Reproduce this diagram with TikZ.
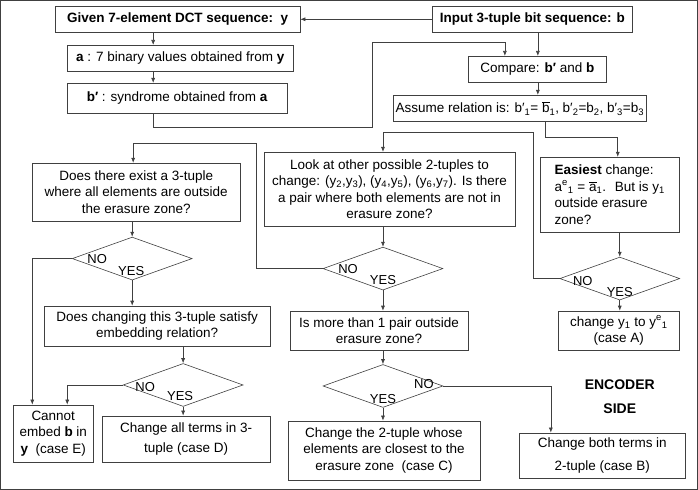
\documentclass[tikz,border=0pt]{standalone}
\usepackage{fontspec}
\setmainfont{Liberation Sans}
\usetikzlibrary{shapes.geometric,arrows.meta,positioning}

\begin{document}
\begin{tikzpicture}[
    x=1pt, y=-1pt,
    >={Latex[length=5pt,width=4pt]},
    every path/.style={draw=black!75, line width=0.6pt},
    block/.style={rectangle, draw, align=center, inner sep=2pt, font=\fontsize{13.5}{16.5}\selectfont},
    decision/.style={diamond, draw, minimum width=120pt, minimum height=43pt, inner sep=0pt},
    answer/.style={inner sep=0pt, font=\fontsize{13}{15}\selectfont},
    tag/.style={inner sep=0pt, font=\fontsize{14}{16}\selectfont\bfseries}
]
\useasboundingbox (0,0) rectangle (698,489);

% Inputs
\node[block, minimum width=245pt, minimum height=26pt] (given) at (177.5,19) {\bfseries Given 7-element DCT sequence:~~y};
\node[block, minimum width=201pt, minimum height=26pt] (input) at (532.5,19) {\bfseries Input 3-tuple bit sequence: b};
\node[block, minimum width=226pt, minimum height=26pt] (abin) at (180,58) {\textbf{a} : 7 binary values obtained from \textbf{y}};
\node[block, minimum width=220pt, minimum height=30pt] (synd) at (177,98) {\textbf{b′} : syndrome obtained from \textbf{a}};
\node[block, minimum width=139pt, minimum height=26pt] (compare) at (537.5,69) {Compare: \textbf{b′} and \textbf{b}};
\node[block, minimum width=246pt, minimum height=26pt] (assume) at (520,108) {Assume relation is: b′\textsubscript{1}= $\overline{\hbox{b}}$\textsubscript{1}, b′\textsubscript{2}=b\textsubscript{2}, b′\textsubscript{3}=b\textsubscript{3}};

% Questions
\node[block, minimum width=208pt, minimum height=58pt] (exist) at (136,192) {Does there exist a 3-tuple\\where all elements are outside\\the erasure zone?};
\node[block, minimum width=251pt, minimum height=74pt] (look) at (389.5,189) {Look at other possible 2-tuples to\\change: (y\textsubscript{2},y\textsubscript{3}), (y\textsubscript{4},y\textsubscript{5}), (y\textsubscript{6},y\textsubscript{7}). Is there\\a pair where both elements are not in\\erasure zone?};
\node[block, align=left, minimum width=140pt, minimum height=75pt] (easy) at (610,194.5) {\textbf{Easiest} change:\\a\textsuperscript{e}\textsubscript{1} = $\overline{\hbox{a}}$\textsubscript{1}.~ But is y\textsubscript{1}\\outside erasure\\zone?};
\node[block, minimum width=226pt, minimum height=40pt] (satisfy) at (157,326) {Does changing this 3-tuple satisfy\\embedding relation?};
\node[block, minimum width=178pt, minimum height=39pt] (more) at (379,330.5) {Is more than 1 pair outside\\erasure zone?};

% Decisions
\node[decision] (d1) at (132,258.5) {};
\node[decision] (d2) at (383,268.5) {};
\node[decision] (d3) at (620,278.5) {};
\node[decision] (d4) at (183,385) {};
\node[decision] (d5) at (383,386) {};
\node[answer] (d1no) at (97,258.5) {NO};
\node[answer] (d1yes) at (131,271) {YES};
\node[answer] (d2no) at (348,268.5) {NO};
\node[answer] (d2yes) at (383,280) {YES};
\node[answer] (d3no) at (583,281) {NO};
\node[answer] (d3yes) at (620,291.5) {YES};
\node[answer] (d4no) at (145,387) {NO};
\node[answer] (d4yes) at (180,396) {YES};
\node[answer] (d5no) at (424,384) {NO};
\node[answer] (d5yes) at (383,399) {YES};

% Cases
\node[block, minimum width=122pt, minimum height=39pt] (casea) at (619,330.5) {change y\textsubscript{1} to y\textsuperscript{e}\textsubscript{1}\\(case A)};
\node[block, minimum width=167pt, minimum height=45pt] (caseb) at (602.5,455.5) {Change both terms in\\[6pt]2-tuple (case B)};
\node[block, minimum width=192pt, minimum height=59pt] (casec) at (384,450.5) {Change the 2-tuple whose\\elements are closest to the\\erasure zone~~(case C)};
\node[block, minimum width=168pt, minimum height=46pt] (cased) at (186,439) {Change all terms in 3-\\[3pt]tuple (case D)};
\node[block, minimum width=80pt, minimum height=57pt] (casee) at (53,433.5) {Cannot\\embed \textbf{b} in\\\textbf{y}~~(case E)};

\node[tag] (encoder) at (620,385) {ENCODER};
\node[tag, below=13pt of encoder] (side) {SIDE};

% Top part
\draw(input)[->] -- (given);
\draw([xshift=-24.5pt]given.south)[->] -- ([xshift=-24.5pt]given.south |- abin.north);
\draw([xshift=-27pt]abin.south)[->] -- ([xshift=-27pt]abin.south |- synd.north);
\draw([xshift=-24pt]synd.south)[->] |- (372,127) |- ([xshift=-32.5pt, yshift=14pt]compare.north) -- ([xshift=-32.5pt]compare.north);
\draw([xshift=5.5pt]input.south)[->] -- ([xshift=5.5pt]input.south |- compare.north);
\draw([xshift=0.5pt]compare.south)[->] -- ([xshift=0.5pt]compare.south |- assume.north);
\draw([xshift=25pt]assume.south)[->] |- ([xshift=8pt, yshift=20pt]easy.north) -- ([xshift=8pt]easy.north);

% Questions to decisions
\draw([xshift=-4pt]exist.south)[->] -- (d1.north);
\draw([xshift=-6.5pt]look.south)[->] -- (d2.north);
\draw([xshift=10pt]easy.south)[->] -- (d3.north);
\draw([xshift=26pt]satisfy.south)[->] -- (d4.north);
\draw([xshift=4pt]more.south)[->] -- (d5.north);

% YES branches
\draw(d1.south)[->] -- (d1.south |- satisfy.north);
\draw(d2.south)[->] -- (d2.south |- more.north);
\draw(d3.south)[->] -- (d3.south |- casea.north);
\draw(d4.south)[->] -- (d4.south |- cased.north);
\draw(d5.south)[->] -- (d5.south |- casec.north);

% NO branches
\draw(d3.west)[->] -- ++(-26,0) |- ([xshift=-6.5pt, yshift=20pt]look.north) -- ([xshift=-6.5pt]look.north);
\draw(d2.west)[->] -- ++(-66,0) |- ([xshift=-3pt, yshift=20pt]exist.north) -- ([xshift=-3pt]exist.north);
\draw(d1.west)[->] -| ([xshift=-21pt]casee.north);
\draw(d4.west)[->] -| ([xshift=14pt]casee.north);
\draw(d5.east)[->] -| ([xshift=-51.5pt]caseb.north);

\end{tikzpicture}
\end{document}
